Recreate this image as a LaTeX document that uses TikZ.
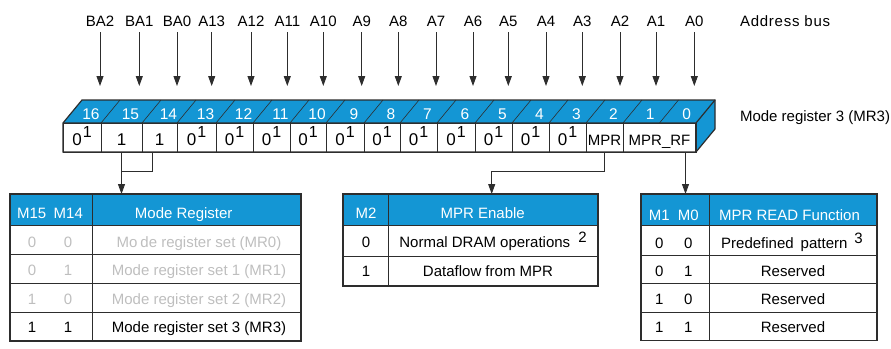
\documentclass[tikz,border=0pt]{standalone}
\usepackage{fontspec}
\setmainfont{Liberation Sans}
\usetikzlibrary{arrows.meta}
\definecolor{regblue}{RGB}{20,150,212}
\definecolor{lineg}{RGB}{45,45,45}
\definecolor{fadegray}{RGB}{190,190,190}
\newcommand\zeroone{{\fontsize{17}{17}\selectfont 0\hspace{1pt}\raisebox{7.5pt}{\fontsize{16}{16}\selectfont 1}}}
\newcommand\bigone{{\fontsize{17}{17}\selectfont 1}}
\begin{document}
\begin{tikzpicture}[x=1pt,y=-1pt,
  every node/.style={font=\fontsize{15}{18}\selectfont, inner sep=0pt, outer sep=0pt},
  txt/.style={anchor=base},
  hd/.style={anchor=base, text=white},
  fd/.style={anchor=base, text=fadegray},
  arr/.style={draw=lineg, line width=0.9pt, -{Triangle[length=10pt,width=7pt]}},
  wire/.style={draw=lineg, line width=0.9pt},
  frame/.style={draw=lineg, line width=1.2pt},
  gridl/.style={draw=lineg, line width=1pt},
  slash/.style={draw=lineg, line width=0.6pt},
  cellbox/.style={draw=lineg, line width=1pt, minimum height=29pt, text height=15pt, text depth=0pt},
]
\useasboundingbox (0,0) rectangle (891,348);

% address bus labels and arrows
\foreach \x/\t/\n in {100/BA2/16, 139.3/BA1/15, 177/BA0/14, 211.7/A13/13, 251/A12/12, 287.3/A11/11, 323.3/A10/10, 361.7/A9/9, 398.3/A8/8, 436/A7/7, 473/A6/6, 508.3/A5/5, 546/A4/4, 582.3/A3/3, 620/A2/2, 656/A1/1, 694.3/A0/0} {
  \node[txt] (a\n) at (\x,26) {\t};
  \coordinate (e\n) at (\x,86);
  \draw[arr] ([yshift=-6pt]a\n.south) -- (e\n);
}
\node[anchor=base west] (abus) at (740,26) {\addfontfeature{LetterSpace=5}Address bus};
\node[anchor=base west] (mrlab) at (740,121) {Mode register 3 (MR3)};

% register top and side faces
\fill[regblue] (63,123) -- (82,100) -- (715,100) -- (696,123) -- cycle;
\fill[regblue] (696,123) -- (715,100) -- (715,129) -- (696,152) -- cycle;
\foreach \x in {101,142,177,216,253,290,326,364,400,437,475,512,549,586,623,659.5}
  \draw[slash] (\x,123) -- ++(19,-23);
\foreach \c/\b in {82/16,121.5/15,159.5/14,196.5/13,234.5/12,271.5/11,308/10,345/9,382/8,418.5/7,456/6,493.5/5,530.5/4,567.5/3,604.5/2,641.25/1,677.75/0}
  \node[hd, font=\fontsize{15.5}{18}\selectfont] (n\b) at (\c+9,119) {\b};

% front cells
\foreach \l/\r/\t/\n in {63/101/\zeroone/16, 101/142/\bigone/15, 142/177/\bigone/14, 177/216/\zeroone/13, 216/253/\zeroone/12, 253/290/\zeroone/11, 290/326/\zeroone/10, 326/364/\zeroone/9, 364/400/\zeroone/8, 400/437/\zeroone/7, 437/475/\zeroone/6, 475/512/\zeroone/5, 512/549/\zeroone/4, 549/586/\zeroone/3, 586/623/MPR/2, 623/696/MPR\_RF/rf} {
  \pgfmathsetmacro\w{\r-\l}
  \pgfmathsetmacro\cx{(\l+\r)/2}
  \node[cellbox, minimum width=\w pt] (c\n) at (\cx,137.5) {\t};
}
\draw[frame] (63,123) -- (82,100) -- (715,100) -- (715,129) -- (696,152) -- (63,152) -- cycle;
\draw[frame] (63,123) -- (696,123) -- (715,100);
\draw[frame] (696,123) -- (696,152);

% table 1
\fill[regblue] (10,194) rectangle (301,225);
\node[frame, minimum width=291pt, minimum height=147pt, anchor=north west] (T1) at (10,194) {};
\foreach \y in {225,254,283,312} \draw[gridl] (10,\y) -- (301,\y);
\draw[gridl] (92.7,194) -- (92.7,341);
\node[hd] (t1h1) at (31.7,218.5) {M15};
\node[hd] (t1h2) at (68.3,218.5) {M14};
\node[hd] (t1h3) at (183.7,218.5) {Mode Register};
\node[fd] (t1a1) at (32,247) {0};
\node[fd] (t1a2) at (68,247) {0};
\node[fd] (t1a3) at (199,247) {Mo\hspace{3pt}de register set (MR0)};
\node[fd] (t1b1) at (32,275.5) {0};
\node[fd] (t1b2) at (68,275.5) {1};
\node[fd] (t1b3) at (199,275.5) {Mode register set 1 (MR1)};
\node[fd] (t1c1) at (32,304) {1};
\node[fd] (t1c2) at (68,304) {0};
\node[fd] (t1c3) at (199,304) {Mode register set 2 (MR2)};
\node[txt] (t1d1) at (32,332.5) {1};
\node[txt] (t1d2) at (68,332.5) {1};
\node[txt] (t1d3) at (199,332.5) {Mode register set 3 (MR3)};

% table 2
\fill[regblue] (343,194) rectangle (598,225);
\node[frame, minimum width=255pt, minimum height=92pt, anchor=north west] (T2) at (343,194) {};
\foreach \y in {225,256} \draw[gridl] (343,\y) -- (598,\y);
\draw[gridl] (388,194) -- (388,286);
\node[hd] (t2h1) at (366,218.5) {M2};
\node[hd] (t2h2) at (482.7,218.5) {MPR Enable};
\node[txt] (t2a1) at (366,247) {0};
\node[txt] (t2a2) at (493,247) {Normal DRAM operations\hspace{8pt}\raisebox{5pt}{2}};
\node[txt] (t2b1) at (366,276) {1};
\node[txt] (t2b2) at (488,276) {Dataflow from MPR};

% table 3
\fill[regblue] (641,194) rectangle (877,225);
\node[frame, minimum width=236pt, minimum height=146.5pt, anchor=north west] (T3) at (641,194) {};
\foreach \y in {225,255,283.5,312} \draw[gridl] (641,\y) -- (877,\y);
\draw[gridl] (709,194) -- (709,340.5);
\node[hd] (t3h1) at (659.3,220) {M1};
\node[hd] (t3h2) at (688.3,220) {M0};
\node[hd] (t3h3) at (789.5,220) {MPR READ Function};
\node[txt] (t3a1) at (659.3,248.5) {0};
\node[txt] (t3a2) at (688.3,248.5) {0};
\node[txt] (t3a3) at (792,248.5) {Predefined\hspace{7pt}pattern\hspace{7pt}\raisebox{5.5pt}{3}};
\node[txt] (t3b1) at (659.3,276) {0};
\node[txt] (t3b2) at (688.3,276) {1};
\node[txt] (t3b3) at (793,276) {Reserved};
\node[txt] (t3c1) at (659.3,304.5) {1};
\node[txt] (t3c2) at (688.3,304.5) {0};
\node[txt] (t3c3) at (793,304.5) {Reserved};
\node[txt] (t3d1) at (659.3,332.5) {1};
\node[txt] (t3d2) at (688.3,332.5) {1};
\node[txt] (t3d3) at (793,332.5) {Reserved};

% connectors
\coordinate (j1) at (121.5,171);
\draw[wire] ([xshift=-7.5pt]c14.south) |- (j1);
\draw[arr] (c15.south) -- (c15.south |- T1.north);
\coordinate (j2) at (491.7,171.5);
\draw[arr] (c2.south) |- (j2) -- (j2 |- T2.north);
\coordinate (r0) at ([xshift=26pt]crf.south);
\draw[arr] (r0) -- (r0 |- T3.north);
\end{tikzpicture}
\end{document}
